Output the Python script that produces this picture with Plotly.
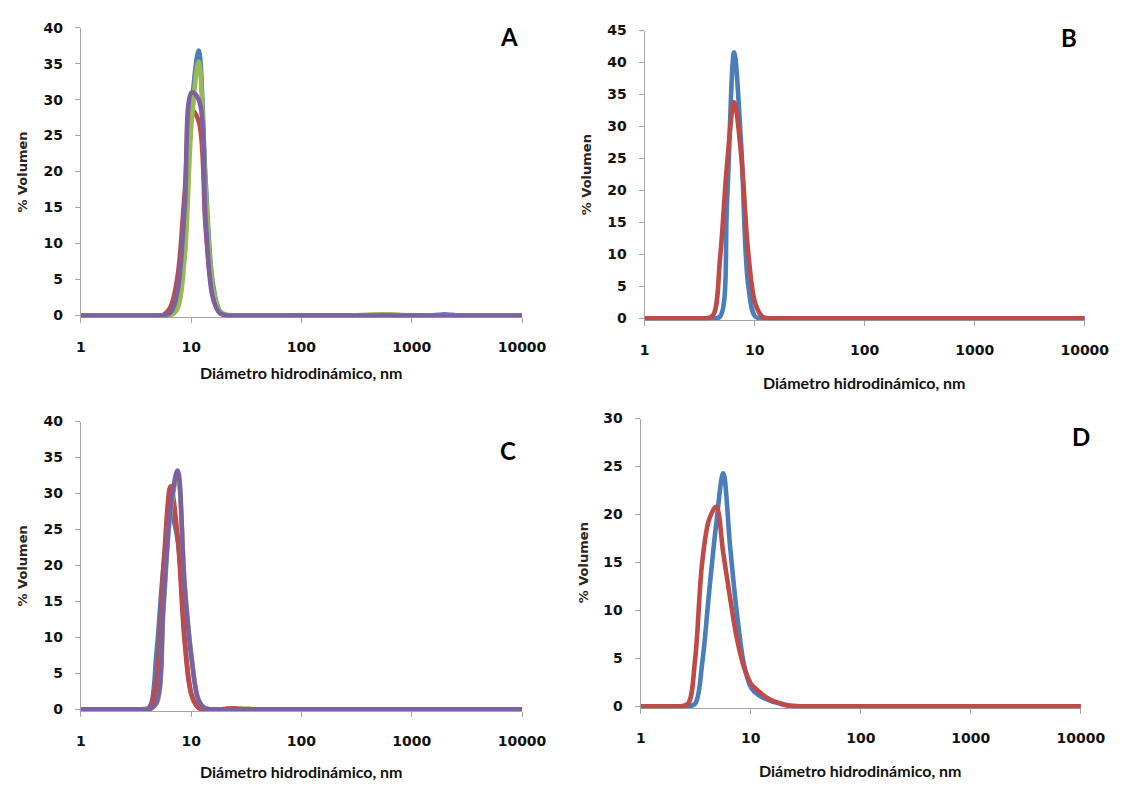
import plotly.graph_objects as go

# ---------------------------------------------------------------------------
# Distribuciones de tamaño (% volumen frente a diámetro hidrodinámico, nm)
# ---------------------------------------------------------------------------

# Panel A
a_azul_d = [1, 4.849, 5.615, 6.503, 7.531, 8.721, 10.1, 11.7, 13.54, 15.69, 18.17, 21.04, 24.36,
            1484, 1718, 1990, 2305, 2669, 3091, 10000]
a_azul_v = [0, 0, 0, 0.1, 1.8, 10.5, 29, 36.8, 18.5, 4.5, 0.6, 0, 0,
            0, 0.08, 0.15, 0.08, 0, 0, 0]

a_rojo_d = [1, 4.187, 4.849, 5.615, 6.503, 7.531, 8.721, 10.1, 11.7, 13.54, 15.69, 18.17, 21.04, 24.36,
            342, 396.1, 458.7, 531.2, 615.1, 712.4, 825, 10000]
a_rojo_v = [0, 0, 0, 0.1, 1.2, 5.5, 17, 28.5, 27, 12, 3, 0.4, 0, 0,
            0, 0, 0.06, 0.1, 0.08, 0, 0, 0]

a_verde_d = [1, 5.615, 6.503, 7.531, 8.721, 10.1, 11.7, 13.54, 15.69, 18.17, 21.04, 24.36, 28.21,
             255, 295.3, 342, 396.1, 458.7, 531.2, 615.1, 712.4, 825, 955.4, 1106, 10000]
a_verde_v = [0, 0, 0, 1.0, 8.0, 27, 35.3, 17.6, 4.0, 0.6, 0.1, 0, 0,
             0, 0, 0.05, 0.1, 0.12, 0.15, 0.15, 0.12, 0.05, 0, 0, 0]

a_morado_d = [1, 4.849, 5.615, 6.503, 7.531, 8.721, 10.1, 11.7, 13.54, 15.69, 18.17, 21.04, 24.36, 10000]
a_morado_v = [0, 0, 0, 0.4, 3.5, 15, 31, 30, 13, 2.5, 0.3, 0, 0, 0]

# Panel B
b_azul_d = [1, 3.615, 4.187, 4.849, 5.615, 6.503, 7.531, 8.721, 10.1, 11.7, 13.54, 10000]
b_azul_v = [0, 0, 0, 0.3, 18.5, 41.6, 27.2, 5.3, 0.3, 0, 0, 0]

b_rojo_d = [1, 3.122, 3.615, 4.187, 4.849, 5.615, 6.503, 7.531, 8.721, 10.1, 11.7, 13.54, 15.69, 10000]
b_rojo_v = [0, 0, 0, 0.5, 9.5, 24.2, 33.8, 25.6, 10.4, 2.4, 0.3, 0, 0, 0]

# Panel C
c_azul_d = [1, 3.122, 3.615, 4.187, 4.849, 5.615, 6.503, 7.531, 8.721, 10.1, 11.7, 13.54, 15.69, 10000]
c_azul_v = [0, 0, 0, 0.3, 8, 20, 27.3, 23.5, 10, 2, 0.2, 0, 0, 0]

c_rojo_d = [1, 3.122, 3.615, 4.187, 4.849, 5.615, 6.503, 7.531, 8.721, 10.1, 11.7, 13.54, 15.69,
            18.17, 21.04, 24.36, 28.21, 32.67, 37.84, 10000]
c_rojo_v = [0, 0, 0, 0.2, 4, 20, 31, 24, 9.4, 1.9, 0.2, 0, 0,
            0, 0.1, 0.15, 0.08, 0, 0, 0]

c_verde_d = [1, 3.615, 4.187, 4.849, 5.615, 6.503, 7.531, 8.721, 10.1, 11.7, 13.54, 15.69, 18.17,
             24.36, 28.21, 32.67, 37.84, 43.82, 10000]
c_verde_v = [0, 0, 0, 0.8, 14, 27.5, 32.5, 17.5, 7.2, 1.3, 0.1, 0, 0,
             0, 0.06, 0.1, 0, 0, 0]

c_morado_d = [1, 3.615, 4.187, 4.849, 5.615, 6.503, 7.531, 8.721, 10.1, 11.7, 13.54, 15.69, 18.17, 10000]
c_morado_v = [0, 0, 0, 1.0, 15, 28, 33.2, 17, 6.9, 1.2, 0.1, 0, 0, 0]

# Panel D
d_azul_d = [1, 2.328, 2.696, 3.122, 3.615, 4.187, 4.849, 5.615, 6.503, 7.531, 8.721, 10.1, 11.7,
            13.54, 15.69, 18.17, 21.04, 24.36, 28.21, 10000]
d_azul_v = [0, 0, 0, 0.3, 4.5, 12, 19, 24.3, 16.5, 9.4, 4.2, 1.9, 1.2,
            0.8, 0.5, 0.3, 0.1, 0, 0, 0]

d_rojo_d = [1, 2.01, 2.328, 2.696, 3.122, 3.615, 4.187, 4.849, 5.615, 6.503, 7.531, 8.721, 10.1,
            11.7, 13.54, 15.69, 18.17, 21.04, 24.36, 28.21, 32.67, 10000]
d_rojo_v = [0, 0, 0, 0.3, 5, 15, 19.5, 20.8, 16, 11.2, 6.9, 4.0, 2.3,
            1.6, 1.0, 0.6, 0.35, 0.15, 0.05, 0, 0, 0]

# Ejes
ticks_x = [1, 10, 100, 1000, 10000]
etiquetas_x = ["1", "10", "100", "1000", "10000"]
max_y = {"A": 40, "B": 45, "C": 40, "D": 30}
titulo_x = "Diámetro hidrodinámico, nm"
titulo_y = "% Volumen"

# ---------------------------------------------------------------------------
AZUL, ROJO, VERDE, MORADO = "#4A7EBB", "#BE4B48", "#98B954", "#7D60A0"
GRIS = "#A6A6A6"
W, H = 1138, 788

series = {
    "A": [(a_azul_d, a_azul_v, AZUL), (a_rojo_d, a_rojo_v, ROJO),
          (a_verde_d, a_verde_v, VERDE), (a_morado_d, a_morado_v, MORADO)],
    "B": [(b_azul_d, b_azul_v, AZUL), (b_rojo_d, b_rojo_v, ROJO)],
    "C": [(c_azul_d, c_azul_v, AZUL), (c_rojo_d, c_rojo_v, ROJO),
          (c_verde_d, c_verde_v, VERDE), (c_morado_d, c_morado_v, MORADO)],
    "D": [(d_azul_d, d_azul_v, AZUL), (d_rojo_d, d_rojo_v, ROJO)],
}

# plot-area geometry in pixels: left, right, top (y max), zero line
geom = {
    "A": dict(l=78, r=531, top=20, zero=313, ax=""),
    "B": dict(l=657, r=1109, top=23, zero=316, ax="2"),
    "C": dict(l=78, r=531, top=421, zero=714, ax="3"),
    "D": dict(l=653, r=1105, top=418, zero=711, ax="4"),
}
# letter position, y-title centre, x-title centre (pixels)
etiquetas = {
    "A": dict(letra=(518, 29), ty=(18, 167), tx=(305, 371)),
    "B": dict(letra=(1093, 30), ty=(598, 170), tx=(883, 381)),
    "C": dict(letra=(517, 451), ty=(18, 568), tx=(305, 777)),
    "D": dict(letra=(1105, 436), ty=(595, 565), tx=(879, 776)),
}

tick_font = dict(family="DejaVu Sans", size=14, color="#111111", weight="bold")

fig = go.Figure()
layout = dict(width=W, height=H, margin=dict(l=0, r=0, t=0, b=0),
              paper_bgcolor="white", plot_bgcolor="white", showlegend=False,
              annotations=[])

for key, g in geom.items():
    ax = g["ax"]
    unit = (g["zero"] - g["top"]) / max_y[key]
    pad_px = 1.8
    ymin = -pad_px / unit
    bottom = g["zero"] + pad_px
    xname, yname = "xaxis" + ax, "yaxis" + ax
    layout[xname] = dict(
        type="log", range=[0, 4], domain=[g["l"] / W, g["r"] / W], anchor="y" + ax,
        tickmode="array", tickvals=ticks_x, ticktext=etiquetas_x,
        ticks="outside", ticklen=5, tickwidth=1, tickcolor=GRIS,
        showline=True, linecolor=GRIS, linewidth=1.3, showgrid=False, zeroline=False,
        tickfont=tick_font, ticklabelstandoff=12, layer="below traces")
    layout[yname] = dict(
        range=[ymin, max_y[key]], domain=[1 - bottom / H, 1 - g["top"] / H], anchor="x" + ax,
        tickmode="linear", tick0=0, dtick=5,
        ticks="outside", ticklen=5, tickwidth=1, tickcolor=GRIS,
        showline=True, linecolor=GRIS, linewidth=1.3, showgrid=False, zeroline=False,
        tickfont=tick_font, ticklabelstandoff=9, layer="below traces")

    for d, v, color in series[key]:
        fig.add_trace(go.Scatter(
            x=d, y=v, mode="lines", xaxis="x" + ax, yaxis="y" + ax,
            line=dict(color=color, width=4.6, shape="spline", smoothing=1.0),
            hoverinfo="skip"))

    e = etiquetas[key]
    layout["annotations"] += [
        dict(text=key, x=e["letra"][0] / W, y=1 - e["letra"][1] / H, xref="paper", yref="paper",
             xanchor="center", yanchor="middle", showarrow=False,
             font=dict(family="Lato", size=24, color="#000000", weight="bold")),
        dict(text=titulo_y, x=e["ty"][0] / W, y=1 - e["ty"][1] / H, xref="paper", yref="paper",
             xanchor="center", yanchor="middle", showarrow=False, textangle=-90,
             font=dict(family="DejaVu Sans", size=13, color="#2B2420", weight="bold")),
        dict(text=titulo_x, x=e["tx"][0] / W, y=1 - e["tx"][1] / H, xref="paper", yref="paper",
             xanchor="center", yanchor="middle", showarrow=False,
             font=dict(family="Lato", size=16, color="#111111", weight="bold")),
    ]

fig.update_layout(**layout)
fig.write_html("out.html")
